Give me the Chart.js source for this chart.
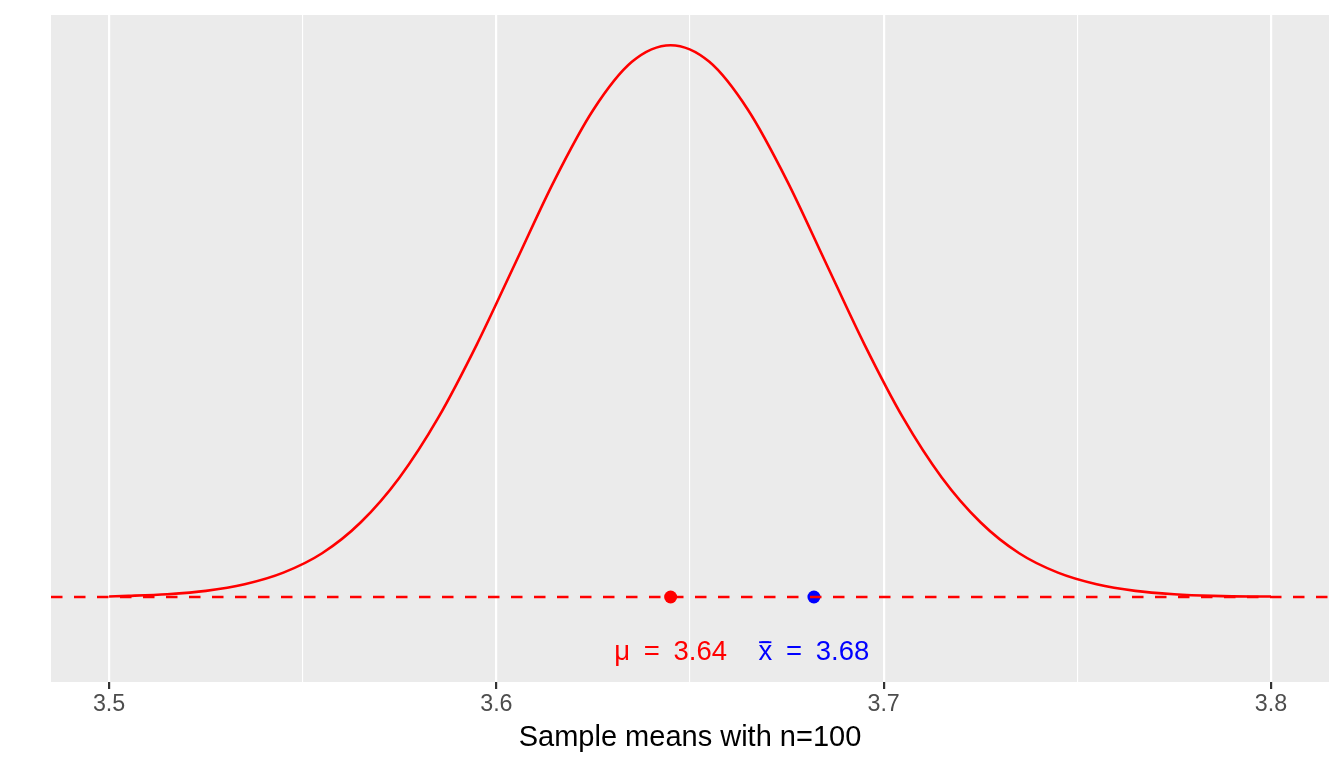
<!DOCTYPE html>
<html>
<head>
<meta charset="utf-8">
<script src="https://cdn.jsdelivr.net/npm/chart.js@4.4.1/dist/chart.umd.min.js"></script>
<style>
  html, body { margin: 0; padding: 0; background: #ffffff; }
  #wrap { width: 1344px; height: 768px; }
</style>
</head>
<body>
<div id="wrap"><canvas id="chart" width="1344" height="768"></canvas></div>
<script>
// sampling distribution of the mean
const curveX = [3.500, 3.505, 3.515, 3.525, 3.535, 3.545, 3.555, 3.565, 3.575, 3.585,
                3.595, 3.605, 3.615, 3.625, 3.635, 3.645, 3.655, 3.665, 3.675, 3.685,
                3.695, 3.705, 3.715, 3.725, 3.735, 3.745, 3.755, 3.765, 3.775, 3.785,
                3.795, 3.800];
const curveY = [0.01, 0.02, 0.05, 0.11, 0.23, 0.44, 0.79, 1.35, 2.16, 3.24,
                4.57, 6.05, 7.53, 8.80, 9.67, 9.97, 9.67, 8.80, 7.53, 6.05,
                4.57, 3.24, 2.16, 1.35, 0.79, 0.44, 0.23, 0.11, 0.05, 0.02,
                0.01, 0.01];

// population mean and sample mean
const markX = [3.645, 3.682];
const markLabels = ['\u03bc = 3.64', 'x\u0304 = 3.68'];
const markColors = ['#FF0000', '#0000FF'];
const labelY = -1;

// axis
const xTicks = [3.5, 3.55, 3.6, 3.65, 3.7, 3.75, 3.8];
const xTickLabels = ['3.5', '', '3.6', '', '3.7', '', '3.8'];
const xLimits = [3.485, 3.815];
const yLimits = [-1.536, 10.517];
const xTitle = 'Sample means with n=100';

const FONT = '"Liberation Sans", Arial, Helvetica, sans-serif';
const isMajor = i => xTickLabels[i] !== '';

const panelBg = {
  id: 'panelBg',
  beforeDraw(chart) {
    const { ctx, chartArea: a } = chart;
    ctx.save();
    ctx.fillStyle = '#ffffff';
    ctx.fillRect(0, 0, chart.width, chart.height);
    ctx.fillStyle = '#EBEBEB';
    ctx.fillRect(a.left, a.top, a.right - a.left, a.bottom - a.top);
    ctx.restore();
  }
};

const markText = {
  id: 'markText',
  afterDatasetsDraw(chart) {
    const { ctx, scales } = chart;
    ctx.save();
    ctx.font = '27.5px ' + FONT;
    ctx.textAlign = 'center';
    ctx.textBaseline = 'middle';
    if ('wordSpacing' in ctx) ctx.wordSpacing = '6px';
    markX.forEach((x, i) => {
      const cx = scales.x.getPixelForValue(x);
      const cy = scales.y.getPixelForValue(labelY);
      ctx.fillStyle = markColors[i];
      ctx.fillText(markLabels[i], cx, cy);
      // widen the combining macron so it spans the x like plotmath's bar()
      if (markLabels[i].startsWith('x\u0304')) {
        const left = cx - ctx.measureText(markLabels[i]).width / 2;
        const w = ctx.measureText('x').width;
        const barTop = cy - ctx.measureText('x\u0304').actualBoundingBoxAscent;
        ctx.strokeStyle = markColors[i];
        ctx.lineWidth = 1.8;
        ctx.beginPath();
        ctx.moveTo(left + 0.5, barTop + 0.9);
        ctx.lineTo(left + w - 1, barTop + 0.9);
        ctx.stroke();
      }
    });
    ctx.restore();
  }
};

new Chart(document.getElementById('chart'), {
  type: 'scatter',
  data: {
    datasets: [
      {
        // dashed reference line at zero, drawn on top
        data: [{ x: xLimits[0], y: 0 }, { x: xLimits[1], y: 0 }],
        showLine: true,
        borderColor: '#FF0000',
        borderWidth: 2.7,
        borderDash: [11.5, 11.5],
        pointRadius: 0
      },
      {
        data: markX.map(x => ({ x: x, y: 0 })),
        pointRadius: 6.5,
        pointBackgroundColor: markColors,
        pointBorderColor: markColors,
        pointBorderWidth: 0
      },
      {
        data: curveX.map((x, i) => ({ x: x, y: curveY[i] })),
        showLine: true,
        borderColor: '#FF0000',
        borderWidth: 2.6,
        cubicInterpolationMode: 'monotone',
        pointRadius: 0
      }
    ]
  },
  options: {
    responsive: false,
    animation: false,
    layout: { padding: { left: 51, right: 15, top: 15, bottom: 0 } },
    plugins: {
      legend: { display: false },
      tooltip: { enabled: false }
    },
    scales: {
      x: {
        type: 'linear',
        min: xLimits[0],
        max: xLimits[1],
        afterBuildTicks(scale) {
          scale.ticks = xTicks.map(v => ({ value: v }));
        },
        afterFit(scale) {
          scale.height = 86;
        },
        border: { display: false },
        grid: {
          color: '#FFFFFF',
          lineWidth: c => isMajor(c.index) ? 2.2 : 1.1,
          drawTicks: true,
          tickLength: 7,
          tickWidth: 2.2,
          tickColor: c => isMajor(c.index) ? '#333333' : 'rgba(0,0,0,0)'
        },
        ticks: {
          autoSkip: false,
          maxRotation: 0,
          padding: 2,
          color: '#4D4D4D',
          font: { family: FONT, size: 23.3 },
          callback: (v, i) => xTickLabels[i]
        },
        title: {
          display: true,
          text: xTitle,
          color: '#000000',
          font: { family: FONT, size: 29 },
          padding: { top: 0, bottom: 13 }
        }
      },
      y: {
        display: false,
        min: yLimits[0],
        max: yLimits[1]
      }
    }
  },
  plugins: [panelBg, markText]
});
</script>
</body>
</html>
